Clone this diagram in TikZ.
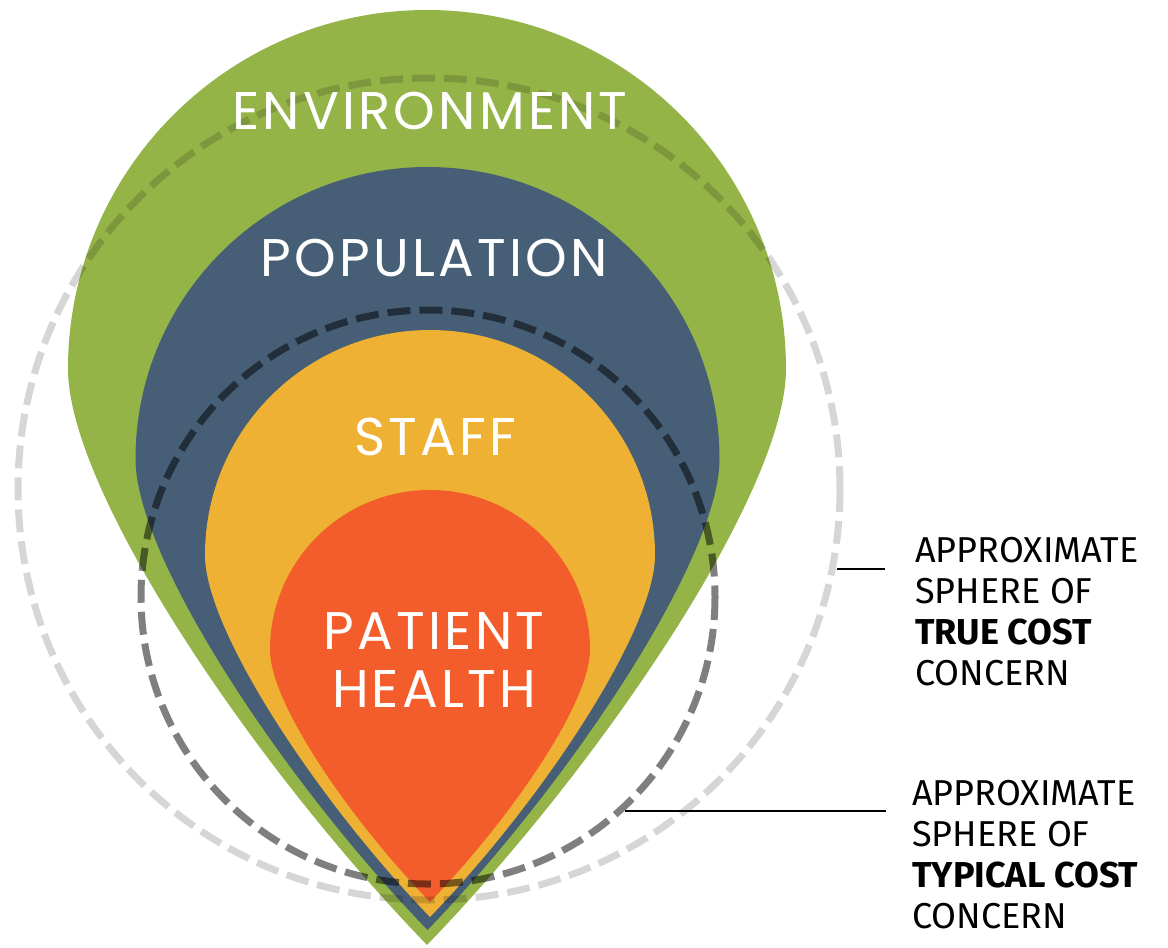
\documentclass[tikz,border=0pt]{standalone}
\usepackage{fontspec}
\setmainfont{Poppins}[LetterSpace=6]
\newfontfamily\notefont{Fira Sans}
\usepackage{tikz}

\definecolor{envgreen}{HTML}{94B448}
\definecolor{popblue}{HTML}{465F76}
\definecolor{staffyellow}{HTML}{EEB134}
\definecolor{patientred}{HTML}{F35D2B}

\begin{document}
\begin{tikzpicture}[x=1pt,y=-1pt,
  layer/.style={font=\fontsize{53}{58}\selectfont,text=white,inner sep=0pt},
  sphere/.style={black,line width=7pt,dash pattern=on 23pt off 9pt},
  note/.style={font=\notefont\fontsize{36}{41}\selectfont,align=left,anchor=north west,inner sep=0pt}]
  \useasboundingbox (0,0) rectangle (1168,948);
  % nested drops: centre x / centre y / radius / tip y / colour
  \foreach \cx/\cy/\rad/\tipy/\col in {427/369/359/945/envgreen,427.5/459/292/930/popblue,
      430/555/225/917/staffyellow,430/650/160/902/patientred} {
    \pgfmathsetmacro\a{\rad/3}
    \pgfmathsetmacro\b{0.72*\rad}
    \fill[\col] (\cx,\tipy)
      .. controls ({\cx-\b*sin(44)},{\tipy-\b*cos(44)}) and ({\cx-\rad},{\cy+\a}) .. ({\cx-\rad},\cy)
      arc[start angle=180,end angle=360,radius=\rad]
      .. controls ({\cx+\rad},{\cy+\a}) and ({\cx+\b*sin(44)},{\tipy-\b*cos(44)}) .. (\cx,\tipy)
      -- cycle;
  }
  % the two cost spheres
  \draw[sphere,opacity=0.16] (429,489) circle[radius=411];
  \draw[sphere,opacity=0.5] (428,597) circle[radius=287];
  % layer names
  \node[layer,anchor=base] (env) at (430,129) {ENVIRONMENT};
  \node[layer,anchor=base] (pop) at (434,276) {POPULATION};
  \node[layer,anchor=base] (staff) at (435,455) {STAFF};
  \node[layer,anchor=north,align=center] (patient) at (434,612) {PATIENT\\HEALTH};
  % side notes
  \node[note] (truecost) at (915,537) {APPROXIMATE\\SPHERE OF\\\textbf{TRUE COST}\\CONCERN};
  \node[note] (typicalcost) at (912,780) {APPROXIMATE\\SPHERE OF\\\textbf{TYPICAL COST}\\CONCERN};
  \coordinate (truefoot) at (837,569);
  \coordinate (typicalfoot) at (625,811);
  \draw[line width=1.6pt,shorten >=30pt] (truefoot) -- (truefoot -| truecost.west);
  \draw[line width=1.6pt,shorten >=26pt] (typicalfoot) -- (typicalfoot -| typicalcost.west);
\end{tikzpicture}
\end{document}
